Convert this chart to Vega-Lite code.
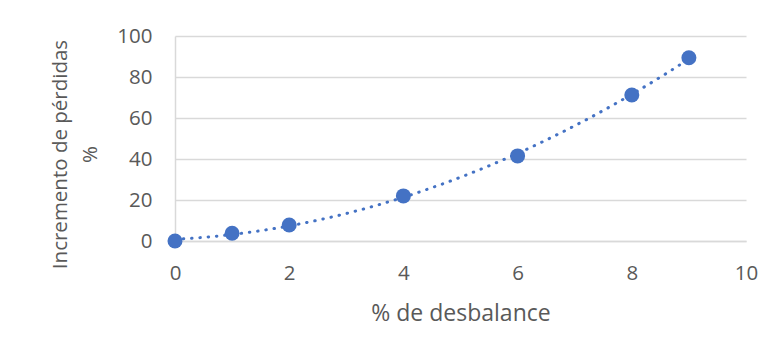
{
  "$schema": "https://vega.github.io/schema/vega-lite/v6.json",
  "width": 571,
  "height": 205,
  "autosize": {"type": "none"},
  "padding": {"left": 175, "top": 36, "right": 27, "bottom": 116},
  "background": "white",
  "data": {
    "values": [
      {"desbalance": 0, "incremento": 0},
      {"desbalance": 1, "incremento": 3.8},
      {"desbalance": 2, "incremento": 7.8},
      {"desbalance": 4, "incremento": 22},
      {"desbalance": 6, "incremento": 41.5},
      {"desbalance": 8, "incremento": 71.2},
      {"desbalance": 9, "incremento": 89.4}
    ]
  },
  "encoding": {
    "x": {
      "field": "desbalance",
      "type": "quantitative",
      "scale": {"domain": [0, 10], "nice": false},
      "axis": {
        "title": "% de desbalance",
        "values": [0, 2, 4, 6, 8, 10],
        "grid": false,
        "ticks": false,
        "labelFlush": false,
        "domainColor": "#d9d9d9",
        "domainWidth": 1.5,
        "labelPadding": 22,
        "titleBaseline": "alphabetic",
        "titleY": 79,
        "titleFontSize": 23
      }
    },
    "y": {
      "field": "incremento",
      "type": "quantitative",
      "scale": {"domain": [0, 100], "nice": false},
      "axis": {
        "title": ["Incremento de pérdidas", "%"],
        "values": [0, 20, 40, 60, 80, 100],
        "ticks": false,
        "labelFlush": false,
        "domainColor": "#d9d9d9",
        "domainWidth": 1.5,
        "gridColor": "#d9d9d9",
        "gridWidth": 1.5,
        "labelPadding": 23,
        "titleFontSize": 20.5,
        "titleLineHeight": 30,
        "titleBaseline": "bottom",
        "titleX": -105,
        "titleY": 118
      }
    }
  },
  "layer": [
    {
      "transform": [
        {
          "regression": "incremento",
          "on": "desbalance",
          "method": "poly",
          "order": 2,
          "extent": [0, 9]
        }
      ],
      "mark": {
        "type": "line",
        "color": "#4472C4",
        "strokeWidth": 3,
        "strokeCap": "round",
        "strokeDash": [0.5, 7.8]
      }
    },
    {
      "mark": {
        "type": "point",
        "shape": "circle",
        "filled": true,
        "opacity": 1,
        "color": "#4472C4",
        "size": 225
      }
    }
  ],
  "config": {
    "view": {"stroke": null},
    "font": "Open Sans",
    "axis": {
      "labelFont": "Open Sans",
      "titleFont": "Open Sans",
      "labelFontSize": 20.5,
      "labelColor": "#595959",
      "titleColor": "#595959",
      "titleFontWeight": "normal"
    }
  }
}
